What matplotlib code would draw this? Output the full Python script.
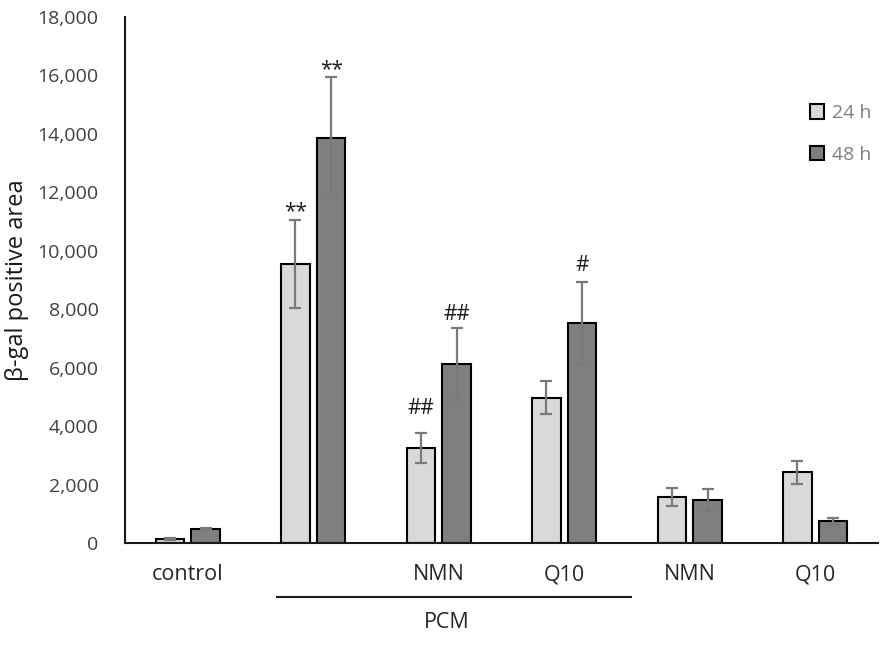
import matplotlib
matplotlib.use("Agg")
import matplotlib.pyplot as plt
from matplotlib.patches import Patch
import matplotlib.transforms as mtransforms
import numpy as np

plt.rcParams['font.family'] = ['Open Sans', 'DejaVu Sans']

categories = ["control", "", "NMN", "Q10", "NMN", "Q10"]
series_names = ["24 h", "48 h"]
vals_24 = [150, 9550, 3250, 4980, 1590, 2430]
err_24 = [30, 1510, 520, 570, 310, 400]
vals_48 = [480, 13870, 6130, 7540, 1480, 750]
err_48 = [40, 2070, 1230, 1400, 370, 110]
yticks = [0, 2000, 4000, 6000, 8000, 10000, 12000, 14000, 16000, 18000]
ylabel = "β-gal positive area"
group_label = "PCM"
# annotations: (category index, series index, text, offset px above error cap)
annotations = [(1, 0, "**", 8), (1, 1, "**", 8), (2, 0, "##", 25), (2, 1, "##", 14), (3, 1, "#", 16)]

fig = plt.figure(figsize=(8.93, 6.47), dpi=100)
ax = fig.add_axes([125/893, 1-543.3/647, (878-125)/893, (543.3-17)/647])

x = np.arange(len(categories))
w = 0.227
off = 0.143
c24 = "#d9d9d9"
c48 = "#7f7f7f"
ekw = dict(ecolor="#7a7a7a", elinewidth=1.6, capsize=4, capthick=1.6)
ax.bar(x - off, vals_24, w, color=c24, edgecolor="black", linewidth=1.5,
       yerr=err_24, error_kw=ekw, zorder=2)
ax.bar(x + off, vals_48, w, color=c48, edgecolor="black", linewidth=1.5,
       yerr=err_48, error_kw=ekw, zorder=2)

vals = [vals_24, vals_48]
errs = [err_24, err_48]
for ci, si, txt, dy in annotations:
    xpos = x[ci] + (-off if si == 0 else off)
    ytop = vals[si][ci] + errs[si][ci]
    ax.annotate(txt, (xpos, ytop), xytext=(0, dy * 0.72), textcoords="offset points",
                ha="center", va="center", fontsize=15, color="#1a1a1a")

ax.set_xlim(-0.5, len(categories) - 0.5)
ax.set_ylim(0, 18000)
ax.set_yticks(yticks)
ax.set_yticklabels([f"{t:,}" for t in yticks], fontsize=14, color="#404040")
ax.set_xticks(x)
ax.set_xticklabels(categories, fontsize=15.5, color="#262626")
ax.tick_params(axis="both", length=0)
ax.tick_params(axis="y", pad=19)
ax.tick_params(axis="x", pad=15)

fig.text(17/893, 1-280/647, ylabel, rotation=90, ha="center", va="center",
         fontsize=17, color="#1a1a1a")

for s in ["top", "right"]:
    ax.spines[s].set_visible(False)
for s in ["left", "bottom"]:
    ax.spines[s].set_linewidth(1.5)
    ax.spines[s].set_color("#1a1a1a")

trans = mtransforms.blended_transform_factory(ax.transData, ax.transAxes)
ax.plot([0.71, 3.53], [-0.102, -0.102], color="#1a1a1a", linewidth=1.5,
        transform=trans, clip_on=False)
ax.text(2.06, -0.151, group_label, transform=trans, ha="center", va="center",
        fontsize=15.5, color="#262626")

handles = [Patch(facecolor=c24, edgecolor="black", linewidth=1.5),
           Patch(facecolor=c48, edgecolor="black", linewidth=1.5)]
leg = fig.legend(handles, series_names, loc="center left",
                 bbox_to_anchor=(792/893, 1-134/647), frameon=False,
                 fontsize=14, handlelength=0.75, handleheight=0.75,
                 handletextpad=0.4, labelspacing=1.2)
for t in leg.get_texts():
    t.set_color("#7f7f7f")

fig.savefig("out.png", dpi=100)
